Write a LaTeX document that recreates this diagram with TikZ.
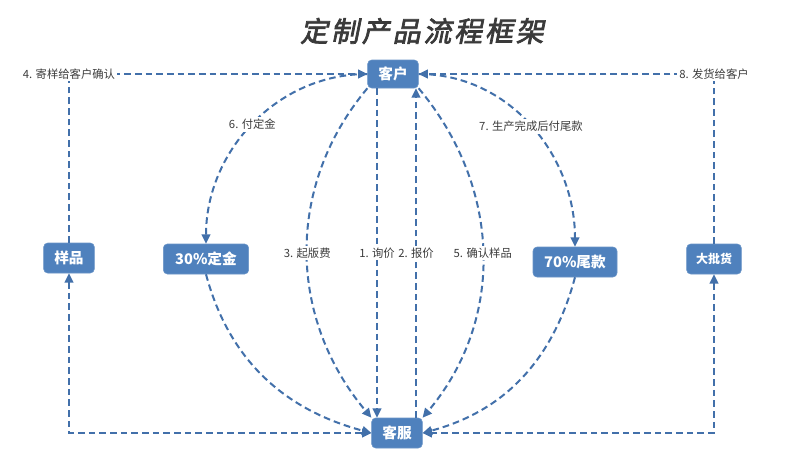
\documentclass[tikz,border=0pt]{standalone}
\usepackage{xcolor}
\usepackage{fontspec}
\usepackage{tikz}
\usetikzlibrary{arrows.meta}
\setmainfont{Noto Sans CJK SC}
\newfontfamily\titlefont[FakeSlant=0.2,FakeBold=2.5,LetterSpace=10]{Noto Sans CJK SC}

\definecolor{boxblue}{RGB}{79,129,189}
\definecolor{flowblue}{RGB}{66,112,170}
\definecolor{labelgray}{RGB}{60,60,60}
\definecolor{titlegray}{RGB}{58,58,58}

\tikzset{
  box/.style={rectangle, rounded corners=3pt, fill=boxblue, draw=boxblue!85!white, text=white,
    font=\bfseries\fontsize{11}{13}\selectfont, minimum height=22.5pt, minimum width=38pt, inner sep=2pt},
  flow/.style={draw=flowblue, line width=1.5pt, dash pattern=on 5pt off 3pt},
  flowarrow/.style={flow, -{Triangle[length=7pt,width=6.5pt]}},
  flowboth/.style={flow, {Triangle[length=7pt,width=6.5pt]}-{Triangle[length=7pt,width=6.5pt]}},
  lbl/.style={fill=white, text=labelgray, font=\fontsize{8.5}{10}\selectfont, inner sep=1.5pt}
}

\begin{document}
\begin{tikzpicture}[x=0.75pt,y=0.75pt,yscale=-1]
        %Background
        \fill[white] (0,0) rectangle (790,468);
        \useasboundingbox (0,0) rectangle (790,468);

        %Title
        \node[font=\titlefont\fontsize{21}{24}\selectfont, text=titlegray] (title) at (422,31) {定制产品流程框架};

        %Boxes
        \node[box, minimum height=21pt] (kehu) at (393,74) {客户};
        \node[box] (kefu) at (397,433) {客服};
        \node[box] (yangpin) at (69,258) {样品};
        \node[box, minimum width=64pt] (dingjin) at (206,259) {30\%定金};
        \node[box, minimum width=63pt] (weikuan) at (575,262) {70\%尾款};
        \node[box, minimum width=41pt, font=\bfseries\fontsize{9}{11}\selectfont] (dapihuo) at (714,259) {大批货};

        %Corners
        \coordinate (tl) at (yangpin |- kehu.west);
        \coordinate (tr) at (dapihuo |- kehu.east);
        \coordinate (bl) at (yangpin |- kefu.west);
        \coordinate (br) at (dapihuo |- kefu.east);

        %Outer lines
        \draw[flowarrow] (yangpin.north) -- (tl) -- (kehu.west);
        \draw[flowarrow] (dapihuo.north) -- (tr) -- (kehu.east);
        \draw[flowboth] (yangpin.south) -- (bl) -- (kefu.west);
        \draw[flowboth] (dapihuo.south) -- (br) -- (kefu.east);
        \node[lbl] (l4) at (tl) {4. 寄样给客户确认};
        \node[lbl] (l8) at (tr) {8. 发货给客户};

        %Straight lines
        \draw[flowarrow] (kehu.south -| 377,0) -- node[lbl] (l1) {1. 询价} (kefu.north -| 377,0);
        \draw[flowarrow] (kefu.north -| 416,0) -- node[lbl] (l2) {2. 报价} (kehu.south -| 416,0);

        %Curves
        \draw[flowarrow] (kehu.west) to[out=180,in=270] node[lbl] (l6) {6. 付定金} (dingjin.north);
        \draw[flowarrow] (kehu.east) to[out=0,in=270] node[lbl] (l7) {7. 生产完成后付尾款} (weikuan.north);
        \draw[flowarrow] (kehu.south west) to[out=130,in=230] node[lbl] (l3) {3. 起版费} (kefu.north west);
        \draw[flowarrow] (kehu.south east) to[out=50,in=310] node[lbl] (l5) {5. 确认样品} (kefu.north east);
        \draw[flowarrow] (dingjin.south) to[out=75,in=195] (kefu.west);
        \draw[flowarrow] (weikuan.south) to[out=105,in=345] (kefu.east);
\end{tikzpicture}
\end{document}
